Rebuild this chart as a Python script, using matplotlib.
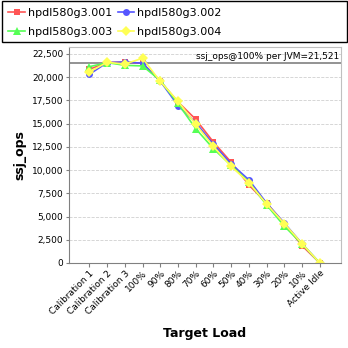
import matplotlib
matplotlib.use("Agg")
import matplotlib.pyplot as plt
from matplotlib.patches import Rectangle
from matplotlib.ticker import FuncFormatter

loads = ["Calibration 1", "Calibration 2", "Calibration 3", "100%", "90%", "80%",
         "70%", "60%", "50%", "40%", "30%", "20%", "10%", "Active Idle"]

host1 = [20850, 21570, 21640, 21500, 19580, 17340, 15470, 13020, 10850, 8400, 6450, 4250, 1870, 0]
host2 = [20310, 21570, 21640, 21500, 19580, 16950, 15110, 12770, 10680, 8950, 6450, 4300, 2090, 0]
host3 = [21130, 21570, 21280, 21210, 19650, 17170, 14460, 12300, 10500, 8700, 6250, 3970, 2050, 0]
host4 = [20560, 21600, 21420, 22040, 19550, 17420, 14930, 12550, 10390, 8660, 6350, 4250, 2090, 0]

names = ["hpdl580g3.001", "hpdl580g3.002", "hpdl580g3.003", "hpdl580g3.004"]
ref_value = 21521

fig = plt.figure(figsize=(3.48, 3.48), dpi=100)
ax = fig.add_axes([69/348, 1 - 263/348, 272/348, 216/348])

styles = [("#FF5555", "s", 5), ("#5555FF", "o", 5), ("#55FF55", "^", 6), ("#FFFF55", "D", 5)]
x = list(range(len(loads)))
handles = []
for series, name, (col, mk, ms) in zip([host1, host2, host3, host4], names, styles):
    h, = ax.plot(x, series, color=col, marker=mk, markersize=ms, linewidth=1.2,
                 markeredgewidth=0, label=name)
    handles.append(h)

ax.axhline(ref_value, color="#808080", linewidth=1.2, zorder=1)
ax.text(len(loads) - 1 + 1.1, ref_value + 250, "ssj_ops@100% per JVM=21,521",
        ha="right", va="bottom", fontsize=6.5, family="DejaVu Sans")

ax.set_xlim(-1.15, len(loads) - 1 + 1.2)
ax.set_ylim(0, 23250)
ax.set_yticks(range(0, 22501, 2500))
ax.yaxis.set_major_formatter(FuncFormatter(lambda v, p: f"{int(v):,}"))
ax.set_xticks(x)
ax.set_xticklabels(loads, rotation=45, ha="right", rotation_mode="anchor", fontsize=6.5)
ax.tick_params(axis="y", labelsize=6.5, length=2, color="#808080", pad=2)
ax.tick_params(axis="x", length=3, color="#808080", pad=1)
ax.grid(axis="y", color="#d0d0d0", linestyle="--", linewidth=0.6)
ax.set_axisbelow(True)
for side in ["left", "bottom"]:
    ax.spines[side].set_color("#808080")
for side in ["top", "right"]:
    ax.spines[side].set_color("#c0c0c0")

ax.set_ylabel("ssj_ops", fontsize=9, fontweight="bold", labelpad=4)
ax.set_xlabel("Target Load", fontsize=9, fontweight="bold", labelpad=8)

# legend fills row by row: 001 002 / 003 004
order = [0, 2, 1, 3]
leg = fig.legend(handles=[handles[i] for i in order], loc="upper left",
                 bbox_to_anchor=(0, 1),
                 ncol=2, fontsize=8, frameon=False,
                 handlelength=1.5, handletextpad=0.25, columnspacing=0.5,
                 borderpad=0.25, labelspacing=0.75)
fig.add_artist(Rectangle((2/348, 1 - 42/348), 345/348, 41/348, transform=fig.transFigure,
                         fill=False, edgecolor="black", linewidth=1.0))

fig.savefig("out.png", dpi=100)
